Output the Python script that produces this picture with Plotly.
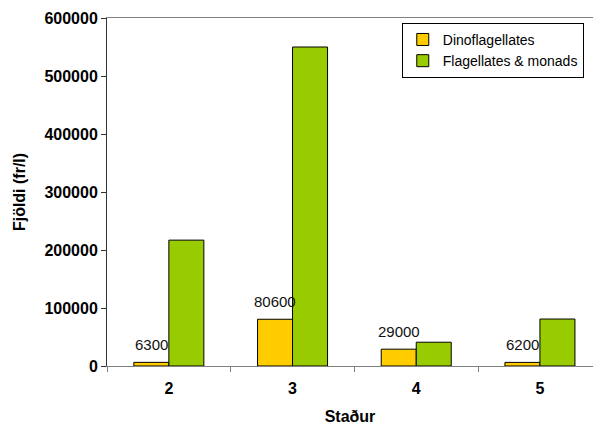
import plotly.graph_objects as go

# Sampling stations and cell counts (cells per litre)
stations = ["2", "3", "4", "5"]
dinoflagellates = [6300, 80600, 29000, 6200]
flagellates_monads = [217000, 550000, 41000, 81000]

series_names = ["Dinoflagellates", "Flagellates & monads"]
y_ticks = [0, 100000, 200000, 300000, 400000, 500000, 600000]

FONT = "Arial, Liberation Sans, sans-serif"
YELLOW = "#FFCC00"
GREEN = "#99CC00"

fig = go.Figure()
fig.add_trace(go.Bar(
    x=stations, y=dinoflagellates, name=series_names[0],
    marker=dict(color=YELLOW, line=dict(color="black", width=1)),
))
fig.add_trace(go.Bar(
    x=stations, y=flagellates_monads, name=series_names[1],
    marker=dict(color=GREEN, line=dict(color="black", width=1)),
))

# Value labels above the dinoflagellate bars (category positions by index)
for i, v in enumerate(dinoflagellates):
    fig.add_annotation(
        x=i, y=v, xref="x", yref="y", text=str(v), showarrow=False,
        xshift=-17.5, yshift=7, yanchor="bottom",
        font=dict(family=FONT, size=15, color="#111111"),
    )

fig.update_layout(
    width=593, height=430,
    margin=dict(l=107, r=0, t=18, b=64),
    paper_bgcolor="white", plot_bgcolor="white",
    barmode="group", bargap=0.434, bargroupgap=0,
    font=dict(family=FONT, color="black"),
    showlegend=True,
    legend=dict(
        x=0.981, y=0.986, xanchor="right", yanchor="top",
        bgcolor="white", bordercolor="black", borderwidth=1,
        font=dict(family=FONT, size=14, color="black"),
        itemwidth=30, tracegroupgap=0,
    ),
    xaxis=dict(
        type="category", range=[-0.5, 3.429],
        showline=True, linecolor="#808080", linewidth=1, mirror=True,
        ticks="outside", tickson="boundaries", ticklen=5, tickcolor="#808080",
        ticklabelstandoff=8,
        tickfont=dict(family=FONT, size=16, color="black", weight="bold"),
        title=dict(text="<b>Staður</b>", font=dict(family=FONT, size=16, color="black"),
                   standoff=14),
        showgrid=False, zeroline=False, fixedrange=True,
    ),
    yaxis=dict(
        range=[0, 600000], tickvals=y_ticks,
        ticktext=[str(t) for t in y_ticks],
        showline=True, linecolor="#333333", linewidth=1,
        ticks="outside", ticklen=5, tickcolor="#333333",
        tickfont=dict(family=FONT, size=16, color="black", weight="bold"),
        title=dict(text="<b>Fjöldi (fr/l)</b>", font=dict(family=FONT, size=16, color="black"),
                   standoff=14),
        showgrid=False, zeroline=False, fixedrange=True,
    ),
)

fig.write_html("out.html")
